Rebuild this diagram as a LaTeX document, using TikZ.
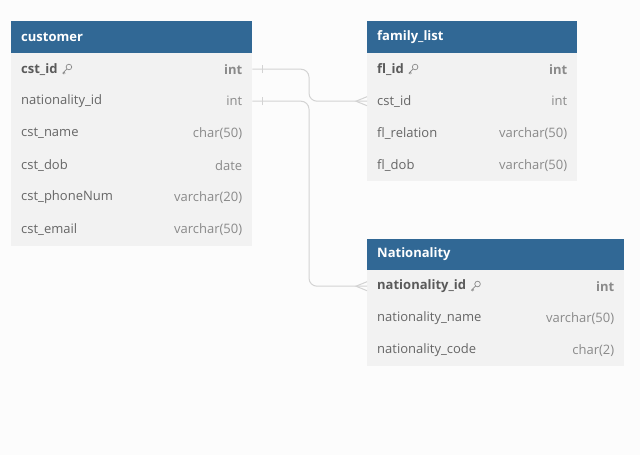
\documentclass[tikz,border=0pt]{standalone}
\usepackage{fontspec}
\setmainfont{Open Sans}
\definecolor{bgc}{HTML}{FCFCFC}
\definecolor{hdrc}{HTML}{316895}
\definecolor{rowc}{HTML}{F2F2F2}
\definecolor{namec}{HTML}{666666}
\definecolor{keyc}{HTML}{5A5A5A}
\definecolor{typec}{HTML}{8A8A8A}
\definecolor{linec}{HTML}{D3D3D3}
\begin{document}
\begin{tikzpicture}[x=1pt,y=-1pt,
  hdr/.style={fill=hdrc,draw=none,inner sep=0pt,anchor=north west,minimum height=32pt},
  rowbox/.style={fill=rowc,draw=none,inner sep=0pt,anchor=north west,minimum height=32pt},
  hdrtext/.style={text=white,font=\fontsize{13}{15}\selectfont\bfseries,anchor=west,inner sep=0pt},
  nametext/.style={text=namec,font=\fontsize{13}{15}\selectfont,anchor=west,inner sep=0pt},
  keytext/.style={text=keyc,font=\fontsize{13}{15}\selectfont\bfseries,anchor=west,inner sep=0pt},
  typetext/.style={text=typec,font=\fontsize{13}{15}\selectfont,anchor=east,inner sep=0pt},
  keytype/.style={text=typec,font=\fontsize{13}{15}\selectfont\bfseries,anchor=east,inner sep=0pt},
  conn/.style={draw=linec,line width=1pt,rounded corners=8pt},
  endmark/.style={draw=linec,line width=1pt},
  keyicon/.pic={\draw[typec,line width=0.7pt] (2.2,-2.2) circle (2.8pt);
     \draw[typec,line width=0.7pt] (0.2,-0.2) -- (-4.2,4.2) (-2.8,2.8) -- (-1.4,4.2) (-3.8,3.8)--(-2.6,5);}
]
\fill[bgc] (0,0) rectangle (640,455);
\useasboundingbox (0,0) rectangle (640,455);

% customer
\node[hdr,minimum width=241pt] (ch) at (11,21) {};
\node[hdrtext] (cht) at (21,37) {customer};
\foreach \i/\n in {1/c1,2/c2,3/c3,4/c4,5/c5,6/c6}{
  \node[rowbox,minimum width=241pt] (\n) at (11,21+32*\i) {};
}
\fill[rowc] (11,245) rectangle (252,246);
\node[keytext] (c1n) at ([xshift=10pt]c1.west) {cst\_id};
\pic at ([xshift=9pt]c1n.east) {keyicon};
\node[keytype] (c1t) at ([xshift=-10pt]c1.east) {int};
\node[nametext] (c2n) at ([xshift=10pt]c2.west) {nationality\_id};
\node[typetext] (c2t) at ([xshift=-10pt]c2.east) {int};
\node[nametext] (c3n) at ([xshift=10pt]c3.west) {cst\_name};
\node[typetext] (c3t) at ([xshift=-10pt]c3.east) {char(50)};
\node[nametext] (c4n) at ([xshift=10pt]c4.west) {cst\_dob};
\node[typetext] (c4t) at ([xshift=-10pt]c4.east) {date};
\node[nametext] (c5n) at ([xshift=10pt]c5.west) {cst\_phoneNum};
\node[typetext] (c5t) at ([xshift=-10pt]c5.east) {varchar(20)};
\node[nametext] (c6n) at ([xshift=10pt]c6.west) {cst\_email};
\node[typetext] (c6t) at ([xshift=-10pt]c6.east) {varchar(50)};

% family_list
\node[hdr,minimum width=210pt] (fh) at (367,21) {};
\node[hdrtext] (fht) at (377,37) {family\_list};
\foreach \i/\n in {1/f1,2/f2,3/f3,4/f4}{
  \node[rowbox,minimum width=210pt] (\n) at (367,21+32*\i) {};
}
\node[keytext] (f1n) at ([xshift=10pt]f1.west) {fl\_id};
\pic at ([xshift=9pt]f1n.east) {keyicon};
\node[keytype] (f1t) at ([xshift=-10pt]f1.east) {int};
\node[nametext] (f2n) at ([xshift=10pt]f2.west) {cst\_id};
\node[typetext] (f2t) at ([xshift=-10pt]f2.east) {int};
\node[nametext] (f3n) at ([xshift=10pt]f3.west) {fl\_relation};
\node[typetext] (f3t) at ([xshift=-10pt]f3.east) {varchar(50)};
\node[nametext] (f4n) at ([xshift=10pt]f4.west) {fl\_dob};
\node[typetext] (f4t) at ([xshift=-10pt]f4.east) {varchar(50)};

% Nationality
\node[hdr,minimum width=257pt,minimum height=31pt] (nh) at (367,239) {};
\node[hdrtext] (nht) at (377,254) {Nationality};
\foreach \i/\n in {1/n1,2/n2,3/n3}{
  \node[rowbox,minimum width=257pt] (\n) at (367,238+32*\i) {};
}
\node[keytext] (n1n) at ([xshift=10pt]n1.west) {nationality\_id};
\pic at ([xshift=9pt]n1n.east) {keyicon};
\node[keytype] (n1t) at ([xshift=-10pt]n1.east) {int};
\node[nametext] (n2n) at ([xshift=10pt]n2.west) {nationality\_name};
\node[typetext] (n2t) at ([xshift=-10pt]n2.east) {varchar(50)};
\node[nametext] (n3n) at ([xshift=10pt]n3.west) {nationality\_code};
\node[typetext] (n3t) at ([xshift=-10pt]n3.east) {char(2)};

% connectors
\coordinate (bx) at (309,0);
\draw[conn] (c1.east) -| (bx |- f2.west) -- (f2.west);
\draw[conn] (c2.east) -| (bx |- n1.west) -- (n1.west);
% one-side ticks
\draw[endmark] ([xshift=10pt,yshift=-4pt]c1.east) -- ([xshift=10pt,yshift=4pt]c1.east);
\draw[endmark] ([xshift=10pt,yshift=-4pt]c2.east) -- ([xshift=10pt,yshift=4pt]c2.east);
% crow's feet
\draw[endmark] ([yshift=-4.5pt]f2.west) -- ([xshift=-11pt]f2.west) -- ([yshift=4.5pt]f2.west);
\draw[endmark] ([yshift=-4.5pt]n1.west) -- ([xshift=-11pt]n1.west) -- ([yshift=4.5pt]n1.west);
\end{tikzpicture}
\end{document}
